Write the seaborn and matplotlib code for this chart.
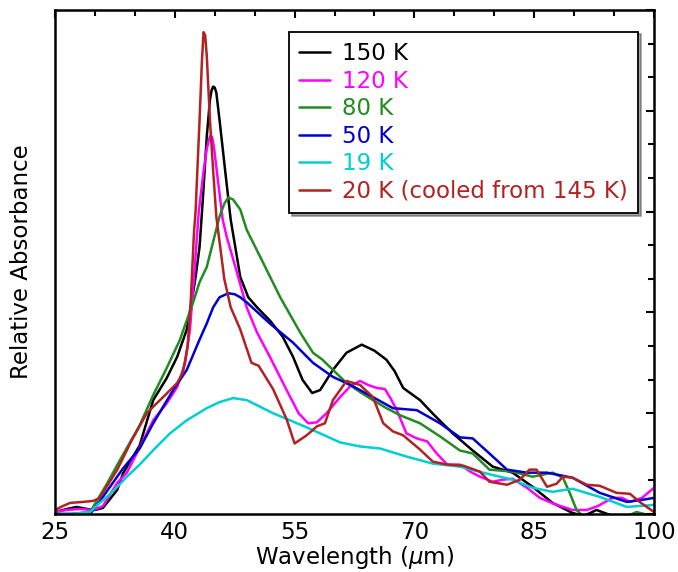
import numpy as np
import pandas as pd
import matplotlib
matplotlib.use("Agg")
import matplotlib.pyplot as plt
from matplotlib.ticker import MultipleLocator, NullFormatter
import seaborn as sns

# valeurs (unites arbitraires, 0-5)
x_150 = [25, 26.5, 27.7, 29.0, 30.0, 31.0, 32.8, 33.5, 35.6, 37.3, 39.0, 40.3, 41.5, 42.1, 42.6,
         43.1, 43.5, 44.0, 44.4, 44.6, 44.8, 45.0, 45.2, 45.6, 46.3, 47.0, 48.2, 49.2, 50.3, 51.9, 53.5, 54.8,
         56.0, 57.2, 58.2, 59.8, 61.5, 63.4, 65.0, 66.5, 67.5, 68.6, 70.7, 72.5, 74.8, 77.3, 79.8,
         82.3, 84.8, 87.3, 89.8, 91.2, 92.8, 94.5, 97.0, 100]
y_150 = [0.02, 0.05, 0.07, 0.05, 0.04, 0.06, 0.24, 0.40, 0.68, 1.13, 1.35, 1.56, 1.83, 2.10, 2.35,
         2.65, 3.11, 3.74, 4.11, 4.20, 4.24, 4.23, 4.18, 3.91, 3.41, 2.92, 2.35, 2.15, 2.05, 1.92, 1.76, 1.56,
         1.33, 1.20, 1.23, 1.43, 1.60, 1.68, 1.62, 1.53, 1.42, 1.25, 1.13, 0.98, 0.80, 0.63, 0.47,
         0.41, 0.27, 0.11, 0.01, -0.02, 0.04, -0.01, -0.10, -0.20]

x_120 = [25, 26.5, 28, 29.8, 31.0, 32.8, 34.0, 35.6, 37.3, 39.0, 40.3, 41.3, 41.9, 42.5, 43.0,
         43.6, 44.0, 44.3, 44.5, 44.7, 44.9, 45.4, 46.0, 46.5, 47.8, 49.0, 50.3, 51.9, 54.0, 55.5, 56.7, 57.8,
         59.0, 60.7, 62.0, 63.2, 64.2, 65.3, 66.3, 67.0, 67.8, 69.0, 70.3, 71.6, 72.8, 74.1, 75.7,
         77.0, 78.2, 79.8, 81.0, 82.3, 84.1, 85.7, 87.5, 89.8, 91.6, 93.0, 94.8, 96.0, 97.0, 98.5, 100]
y_120 = [0.02, 0.04, 0.05, 0.04, 0.08, 0.31, 0.41, 0.66, 0.93, 1.10, 1.26, 1.50, 1.83, 2.45, 3.00,
         3.40, 3.62, 3.72, 3.76, 3.73, 3.64, 3.31, 2.92, 2.75, 2.39, 2.05, 1.80, 1.56, 1.23, 1.00, 0.90, 0.91,
         1.00, 1.16, 1.27, 1.32, 1.28, 1.25, 1.24, 1.15, 1.03, 0.80, 0.75, 0.72, 0.60, 0.49, 0.49,
         0.42, 0.37, 0.32, 0.34, 0.35, 0.26, 0.16, 0.10, 0.04, 0.04, 0.08, 0.16, 0.16, 0.12, 0.16, 0.26]

x_80 = [25, 27, 29.4, 30.3, 31.5, 33.1, 35.6, 37.3, 39.0, 40.6, 42.3, 43.1, 44.0, 45.6, 46.2, 46.7,
        47.3, 48.2, 49.0, 50.7, 53.2, 55.7, 57.3, 58.5, 59.4, 61.5, 63.2, 64.8, 66.5, 68.2, 70.7, 73.2,
        75.7, 77.3, 79.4, 82.3, 84.8, 87.3, 88.6, 89.5, 90.3, 91.5, 94.0, 97.0, 97.8, 98.8, 100]
y_80 = [0.0, 0.0, 0.02, 0.14, 0.30, 0.53, 0.88, 1.18, 1.45, 1.72, 2.10, 2.30, 2.45, 2.95, 3.08, 3.14,
        3.12, 3.02, 2.82, 2.55, 2.15, 1.80, 1.60, 1.53, 1.46, 1.30, 1.21, 1.13, 1.05, 0.98, 0.90, 0.77,
        0.63, 0.60, 0.44, 0.42, 0.37, 0.41, 0.36, 0.20, 0.04, -0.05, -0.08, -0.01, 0.02, 0.0, -0.05]

x_50 = [25, 27, 29.4, 31.0, 33.5, 35.6, 37.3, 39.8, 41.5, 43.1, 44.0, 44.8, 45.6, 46.7, 47.5, 48.2,
        49.0, 51.9, 54.8, 57.3, 59.8, 62.0, 64.8, 67.3, 70.3, 73.2, 75.7, 77.3, 79.4, 81.6, 84.1,
        86.6, 89.8, 93.2, 96.6, 98.5, 100]
y_50 = [0.0, 0.0, 0.0, 0.17, 0.45, 0.65, 0.90, 1.23, 1.43, 1.73, 1.89, 2.05, 2.15, 2.19, 2.18, 2.15,
        2.10, 1.89, 1.70, 1.50, 1.36, 1.28, 1.16, 1.05, 1.03, 0.90, 0.76, 0.75, 0.60, 0.44, 0.41,
        0.41, 0.36, 0.21, 0.12, 0.14, 0.16]

x_19 = [25, 27, 29.4, 30.3, 31.5, 32.8, 34.0, 35.6, 37.5, 39.4, 41.5, 44.0, 45.6, 47.3, 49.0,
        52.3, 56.5, 60.7, 63.2, 65.7, 69.0, 72.3, 75.7, 79.1, 82.3, 84.8, 87.3, 89.8, 93.2, 96.6, 100]
y_19 = [0.0, 0.0, 0.02, 0.09, 0.17, 0.27, 0.37, 0.49, 0.65, 0.80, 0.93, 1.05, 1.11, 1.15, 1.13,
        1.00, 0.86, 0.71, 0.67, 0.65, 0.57, 0.50, 0.47, 0.40, 0.34, 0.26, 0.22, 0.25, 0.17, 0.07, 0.09]

x_20 = [25, 26.0, 26.9, 28.5, 29.8, 30.6, 32.8, 34.6, 36.5, 37.5, 38.8, 40.3, 41.0, 41.6, 42.0,
        42.4, 42.6, 43.1, 43.4, 43.6, 43.8, 44.0, 44.4, 44.8, 45.2, 46.2, 47.0, 48.2, 49.6, 50.5, 52.3,
        54.0, 55.0, 56.5, 57.8, 58.8, 59.8, 61.5, 63.2, 64.8, 66.1, 67.3, 68.6, 70.7, 72.3, 74.1,
        76.1, 78.2, 79.4, 81.6, 83.2, 84.4, 85.3, 86.6, 87.8, 88.6, 89.8, 91.6, 93.2, 95.3, 97.0,
        98.2, 100]
y_20 = [0.04, 0.08, 0.11, 0.12, 0.13, 0.16, 0.44, 0.73, 1.00, 1.08, 1.18, 1.30, 1.40, 1.66, 2.12,
        2.79, 3.00, 3.91, 4.50, 4.78, 4.75, 4.55, 3.91, 3.41, 2.95, 2.33, 2.05, 1.83, 1.50, 1.47, 1.24,
        0.94, 0.70, 0.78, 0.87, 0.90, 1.13, 1.32, 1.28, 1.16, 0.90, 0.82, 0.78, 0.64, 0.52, 0.49,
        0.48, 0.42, 0.32, 0.29, 0.34, 0.44, 0.44, 0.27, 0.30, 0.37, 0.36, 0.29, 0.28, 0.21, 0.20,
        0.12, 0.02]

series = [
    ("150 K", x_150, y_150, "black"),
    ("120 K", x_120, y_120, "#ff00ff"),
    ("80 K", x_80, y_80, "#228b22"),
    ("50 K", x_50, y_50, "#0000cd"),
    ("19 K", x_19, y_19, "#00ced1"),
    ("20 K (cooled from 145 K)", x_20, y_20, "#b22222"),
]

sns.set_style("white")
plt.rcParams['font.family'] = ['DejaVu Sans']
plt.rcParams['text.color'] = 'black'
plt.rcParams['axes.labelcolor'] = 'black'
plt.rcParams['xtick.color'] = 'black'
plt.rcParams['ytick.color'] = 'black'

fig = plt.figure(figsize=(6.78, 5.72), dpi=100)
ax = fig.add_axes([55/678, 1 - 514/572, 599/678, 504/572])

for nom, xs, ys, col in series:
    d = pd.DataFrame({"x": xs, "y": ys})
    sns.lineplot(data=d, x="x", y="y", ax=ax, color=col, lw=1.8, label=nom, sort=False)

ax.set_xlim(25, 100)
ax.set_ylim(0, 5)
ax.set_xticks(np.arange(25, 101, 15))
ax.xaxis.set_minor_locator(MultipleLocator(5))
ax.yaxis.set_major_locator(MultipleLocator(1))
ax.yaxis.set_minor_locator(MultipleLocator(1/3))
ax.yaxis.set_major_formatter(NullFormatter())
ax.tick_params(which="both", direction="in", top=True, right=True, labelsize=16.5, width=1.5,
               color="black", pad=5)
ax.tick_params(which="major", length=6)
ax.tick_params(which="minor", length=4)
for s in ax.spines.values():
    s.set_linewidth(1.8)
    s.set_color("black")

ax.set_xlabel("Wavelength ($\\mu$m)", fontsize=16.5, labelpad=0)
ax.set_ylabel("Relative Absorbance", fontsize=16.5, labelpad=11)

leg = ax.legend(loc="upper right", bbox_to_anchor=(0.973, 0.957), fontsize=16.5, frameon=True,
                fancybox=False, shadow=True, edgecolor="black", handlelength=1.35,
                handletextpad=0.5, labelspacing=0.2, borderaxespad=0, borderpad=0.45)
leg.get_frame().set_linewidth(1.3)
for txt, (_, _, _, col) in zip(leg.get_texts(), series):
    txt.set_color(col)

fig.savefig("out.png", dpi=100)
